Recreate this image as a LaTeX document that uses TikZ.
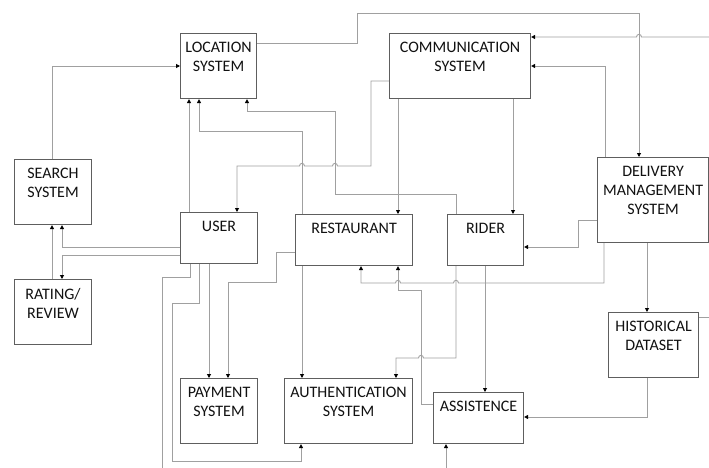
\documentclass[tikz,border=0pt]{standalone}
\usepackage{fontspec}
\setmainfont{Carlito}
\usetikzlibrary{arrows.meta}
\definecolor{conncol}{HTML}{A0A0A0}
\definecolor{boxcol}{HTML}{5E5E5E}
\definecolor{textcol}{HTML}{111111}
\tikzset{
  sysbox/.style={draw=boxcol, line width=1.1pt, rectangle, inner sep=0pt, anchor=north west},
  txt/.style={anchor=north, yshift=-9pt, inner sep=0pt, align=center, text=textcol,
              font=\fontsize{16}{19}\selectfont},
  conn/.style={draw=conncol, line width=0.9pt},
  arr/.style={conn, -{Triangle[length=4pt,width=4pt,color=black]}}
}
\begin{document}
\begin{tikzpicture}[x=1pt,y=-1pt]
\fill[white] (0,0) rectangle (709,468);
\useasboundingbox (0,0) rectangle (709,468);

% boxes
\node[sysbox, minimum width=76pt,  minimum height=65pt, label={[txt]north:LOCATION\\SYSTEM}] (loc) at (180,33) {};
\node[sysbox, minimum width=141pt, minimum height=65pt, label={[txt]north:COMMUNICATION\\SYSTEM}] (comm) at (389,33) {};
\node[sysbox, minimum width=77pt,  minimum height=65pt, label={[txt]north:SEARCH\\SYSTEM}] (search) at (14,159) {};
\node[sysbox, minimum width=77pt,  minimum height=51pt, label={[txt]north:USER}] (user) at (180,212) {};
\node[sysbox, minimum width=117pt, minimum height=51pt, label={[txt]north:RESTAURANT}] (rest) at (295,214) {};
\node[sysbox, minimum width=76pt,  minimum height=51pt, label={[txt]north:RIDER}] (rider) at (447,214) {};
\node[sysbox, minimum width=111pt, minimum height=85pt, label={[txt]north:DELIVERY\\MANAGEMENT\\SYSTEM}] (deliv) at (597,157) {};
\node[sysbox, minimum width=90pt,  minimum height=65pt, label={[txt]north:HISTORICAL\\DATASET}] (hist) at (608,312) {};
\node[sysbox, minimum width=77pt,  minimum height=65pt, label={[txt]north:PAYMENT\\SYSTEM}] (pay) at (180,378) {};
\node[sysbox, minimum width=128pt, minimum height=65pt, label={[txt]north:AUTHENTICATION\\SYSTEM}] (auth) at (284,378) {};
\node[sysbox, minimum width=90pt,  minimum height=51pt, label={[txt]north:ASSISTENCE}] (assist) at (433,392) {};
\node[sysbox, minimum width=77pt,  minimum height=65pt, label={[txt]north:RATING/\\REVIEW}] (rating) at (14,279) {};

% free ends
\coordinate (inR) at (709,37);
\coordinate (outR) at (709,317);
\coordinate (inB) at (446,468);
\coordinate (outB) at (162,468);

% connectors
\draw[arr] ([yshift=-10pt]loc.north east) -- (357,43) -- (357,13) -- (639,13) -- ([xshift=42pt]deliv.north west);
\draw[arr] (inR) -- (641.5,37) .. controls (641.5,33.5) and (636.5,33.5) .. (636.5,37) -- ([yshift=-4pt]comm.north east);
\draw[arr] ([xshift=8pt]deliv.north west) |- ([yshift=-33pt]comm.north east);
\draw[arr] ([yshift=-48pt]comm.north west) -| (371,166) -- (337.5,166)
  .. controls (337.5,162.5) and (332.5,162.5) .. (332.5,166) -- (304.5,166)
  .. controls (304.5,162.5) and (299.5,162.5) .. (299.5,166) -- (237,166) -- ([xshift=57pt]user.north west);
\draw[arr] ([xshift=9pt]user.north west) -- ([xshift=9pt]loc.south west);
\draw[arr] ([xshift=7pt]rest.north west) -- (302,131) -| ([xshift=19pt]loc.south west);
\draw[arr] ([xshift=9pt]rider.north west) -- (456,194) -- (335,194) -- (335,111) -| ([xshift=67pt]loc.south west);
\draw[arr] ([xshift=9pt]comm.south west) -- ([xshift=103pt]rest.north west);
\draw[arr] ([xshift=124pt]comm.south west) -- ([xshift=66pt]rider.north west);
\draw[arr] ([yshift=-63pt]deliv.north west) -- (578,220) -- (578,247) -- ([yshift=-33pt]rider.north east);
\draw[arr] ([xshift=7pt]deliv.south west) -- (604,283) -- (458.5,283)
  .. controls (458.5,279.5) and (453.5,279.5) .. (453.5,283) -- (400.5,283)
  .. controls (400.5,279.5) and (395.5,279.5) .. (395.5,283) -- (361,283) -- ([xshift=66pt]rest.south west);
\draw[arr] ([yshift=-12pt]assist.north west) -- (421,404) -- (421,290) -- (398,290) -- ([xshift=103pt]rest.south west);
\draw[arr] ([xshift=9pt]rider.south west) -- (456,358) -- (423.5,358)
  .. controls (423.5,354.5) and (418.5,354.5) .. (418.5,358) -- (396,358) -- ([xshift=112pt]auth.north west);
\draw[arr] ([xshift=38pt]rider.south west) -- ([xshift=52pt]assist.north west);
\draw[arr] ([xshift=50pt]deliv.south west) -- ([xshift=39pt]hist.north west);
\draw[arr] ([xshift=39pt]hist.south west) |- ([yshift=-25pt]assist.north east);
\draw[conn] ([yshift=-5pt]hist.north east) -- (outR);
\draw[arr] (inB) -- ([xshift=13pt]assist.south west);
\draw[arr] ([yshift=-35pt]user.north west) -| ([xshift=48pt]search.south west);
\draw[arr] ([yshift=-43pt]user.north west) -| ([xshift=48pt]rating.north west);
\draw[arr] ([xshift=38pt]rating.north west) -- ([xshift=38pt]search.south west);
\draw[arr] ([xshift=38pt]search.north west) |- ([yshift=-33pt]loc.north west);
\draw[conn] ([xshift=10pt]user.south west) -- (190,277) -- (162,277) -- (outB);
\draw[arr] ([xshift=19pt]user.south west) -- (199,303) -- (172,303) -- (172,461) -| ([xshift=17pt]auth.south west);
\draw[arr] ([xshift=29pt]user.south west) -- ([xshift=29pt]pay.north west);
\draw[arr] ([yshift=-38pt]rest.north west) -- (276,252) -- (276,282) -| ([xshift=48pt]pay.north west);
\draw[arr] ([xshift=7pt]rest.south west) -- ([xshift=18pt]auth.north west);
\end{tikzpicture}
\end{document}
